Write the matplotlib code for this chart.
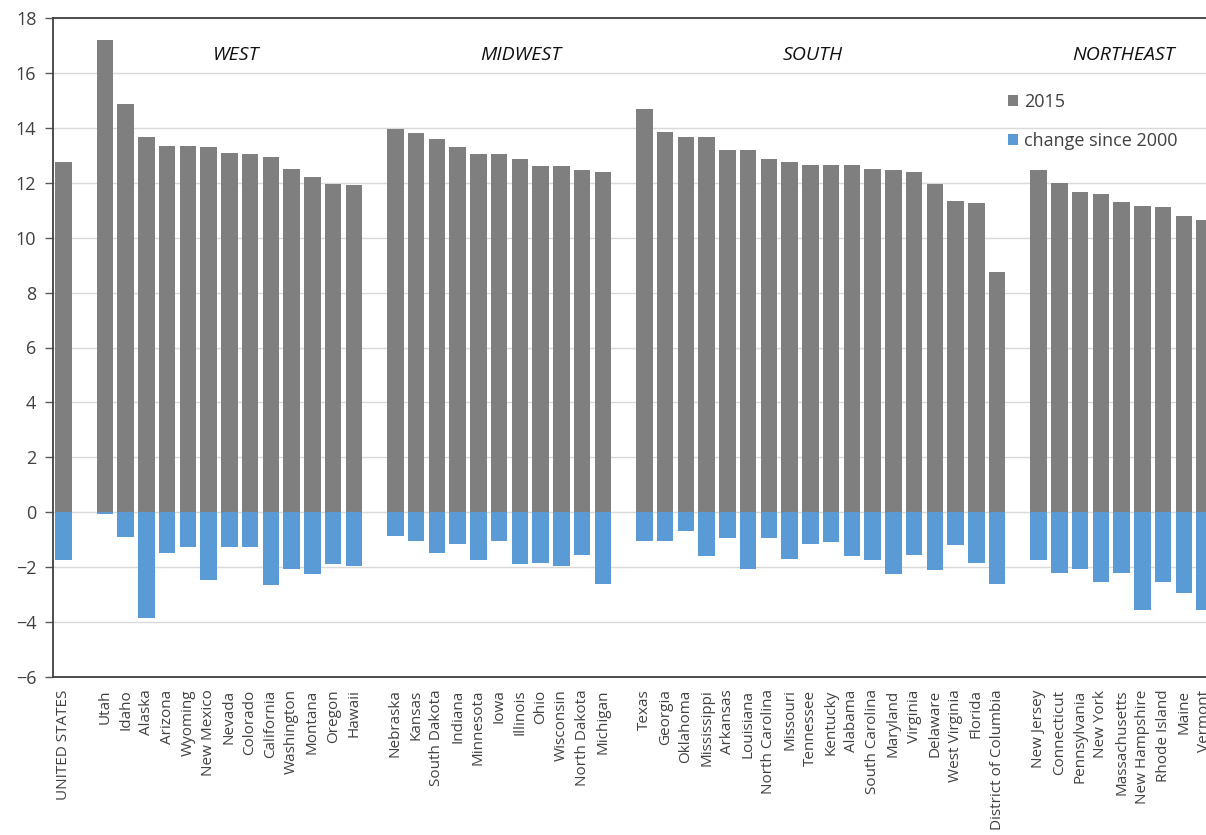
import matplotlib
matplotlib.use("Agg")
import matplotlib.pyplot as plt
import numpy as np

plt.rcParams['font.family'] = ['Open Sans', 'DejaVu Sans']

# ---- data ----
us_label = ["UNITED STATES"]
us_2015 = [12.75]
us_change = [-1.75]

west_states = ["Utah", "Idaho", "Alaska", "Arizona", "Wyoming", "New Mexico", "Nevada",
               "Colorado", "California", "Washington", "Montana", "Oregon", "Hawaii"]
west_2015 = [17.2, 14.85, 13.65, 13.35, 13.35, 13.3, 13.1, 13.05, 12.95, 12.5, 12.2, 11.95, 11.9]
west_change = [-0.05, -0.9, -3.85, -1.5, -1.25, -2.45, -1.25, -1.25, -2.65, -2.05, -2.25, -1.9, -1.95]

midwest_states = ["Nebraska", "Kansas", "South Dakota", "Indiana", "Minnesota", "Iowa",
                  "Illinois", "Ohio", "Wisconsin", "North Dakota", "Michigan"]
midwest_2015 = [13.95, 13.8, 13.6, 13.3, 13.05, 13.05, 12.85, 12.6, 12.6, 12.45, 12.4]
midwest_change = [-0.85, -1.05, -1.5, -1.15, -1.75, -1.05, -1.9, -1.85, -1.95, -1.55, -2.6]

south_states = ["Texas", "Georgia", "Oklahoma", "Mississippi", "Arkansas", "Louisiana",
                "North Carolina", "Missouri", "Tennessee", "Kentucky", "Alabama",
                "South Carolina", "Maryland", "Virginia", "Delaware", "West Virginia",
                "Florida", "District of Columbia"]
south_2015 = [14.7, 13.85, 13.65, 13.65, 13.2, 13.2, 12.85, 12.75, 12.65, 12.65, 12.65,
              12.5, 12.45, 12.4, 11.95, 11.35, 11.25, 8.75]
south_change = [-1.05, -1.05, -0.7, -1.6, -0.95, -2.05, -0.95, -1.7, -1.15, -1.1, -1.6,
                -1.75, -2.25, -1.55, -2.1, -1.2, -1.85, -2.6]

northeast_states = ["New Jersey", "Connecticut", "Pennsylvania", "New York", "Massachusetts",
                    "New Hampshire", "Rhode Island", "Maine", "Vermont"]
northeast_2015 = [12.45, 12.0, 11.65, 11.6, 11.3, 11.15, 11.1, 10.8, 10.65]
northeast_change = [-1.75, -2.2, -2.05, -2.55, -2.2, -3.55, -2.55, -2.95, -3.55]

region_names = ["WEST", "MIDWEST", "SOUTH", "NORTHEAST"]

yticks = list(range(-6, 19, 2))

# ---- layout of slots (one blank slot between groups) ----
groups = [(us_label, us_2015, us_change),
          (west_states, west_2015, west_change),
          (midwest_states, midwest_2015, midwest_change),
          (south_states, south_2015, south_change),
          (northeast_states, northeast_2015, northeast_change)]

labels, vals15, valsch, pos = [], [], [], []
slot = 0
for names, v15, vch in groups:
    for n, a, b in zip(names, v15, vch):
        labels.append(n); vals15.append(a); valsch.append(b); pos.append(slot)
        slot += 1
    slot += 1  # gap

# x positions (in slot units) of the region titles
region_x = [8.3, 22.05, 36.1, 51.1]

W, H = 1206, 835
fig = plt.figure(figsize=(W / 100, H / 100), dpi=100)
slot_px = 20.75
xmin, xmax = -0.5, 55.6
left_px, top_px, bottom_px = 53, 18, 677
ax = fig.add_axes([left_px / W, 1 - bottom_px / H,
                   (xmax - xmin) * slot_px / W, (bottom_px - top_px) / H])

gray = "#7f7f7f"
blue = "#5b9bd5"
b1 = ax.bar(pos, vals15, width=0.8, color=gray, label="2015", zorder=3)
b2 = ax.bar(pos, valsch, width=0.8, color=blue, label="change since 2000", zorder=3)

ax.set_xlim(xmin, xmax)
ax.set_ylim(-6, 18)
ax.set_yticks(yticks)
ax.set_xticks(pos)
ax.set_xticklabels(labels, rotation=90, fontsize=11, color="#404040")
ax.tick_params(axis='x', length=0, pad=9)
ax.tick_params(axis='y', length=6, width=1, color="#595959", labelsize=13,
               labelcolor="#404040", pad=6)
ax.yaxis.grid(True, color="#d9d9d9", linewidth=1, zorder=0)
ax.set_axisbelow(True)
for s in ['left', 'bottom', 'top']:
    ax.spines[s].set_color("#404040")
    ax.spines[s].set_linewidth(1.3)
ax.spines['right'].set_visible(False)

# region titles above the groups
for name, xr in zip(region_names, region_x):
    ax.text(xr, 16.65, name, ha='center', va='center', fontsize=14,
            style='italic', color="#111111")

fig.legend(handles=[b1, b2], loc='upper left', bbox_to_anchor=(992 / W, 1 - 77 / H),
           frameon=False, fontsize=13, labelcolor="#404040", handlelength=0.55,
           handleheight=0.55, handletextpad=0.35, labelspacing=1.15)

fig.savefig("out.png", dpi=100)
